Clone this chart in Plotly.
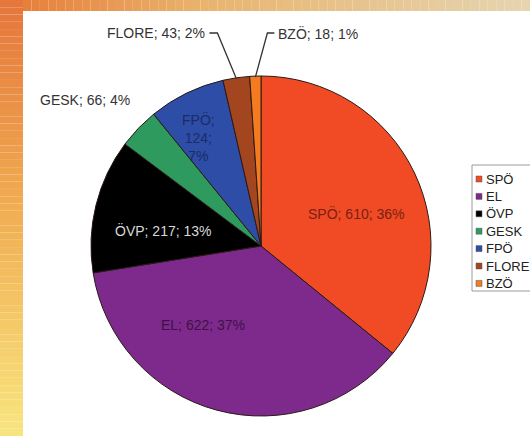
import math
import plotly.graph_objects as go

# ---- data ----
parties = ["SPÖ", "EL", "ÖVP", "GESK", "FPÖ", "FLORE", "BZÖ"]
seats = [610, 622, 217, 66, 124, 43, 18]
pct_labels = ["36%", "37%", "13%", "4%", "7%", "2%", "1%"]
colors = ["#F04B24", "#7E2A8C", "#000000", "#2F9A5E", "#2E4DA6", "#A3461F", "#F47B20"]
label_colors = ["#7A2014", "#3E1148", "#D8D8D8", "#333333", "#1B2C66", "#333333", "#333333"]

W, H = 530, 436
CX, CY, R = 261, 246, 170  # pie geometry in pixels

def px(x):
    return x / W

def py(y):
    return 1 - y / H

texts = []
for p, v, pc in zip(parties, seats, pct_labels):
    if p == "FPÖ":
        texts.append(f"{p};<br>{v};<br>{pc}")
    else:
        texts.append(f"{p}; {v}; {pc}")

fig = go.Figure()
fig.add_trace(go.Pie(
    labels=parties, values=seats, text=texts, textinfo="none",
    sort=False, direction="clockwise", rotation=0,
    marker=dict(colors=colors, line=dict(color="#2a1a14", width=1)),
    domain=dict(x=[px(CX - R), px(CX + R)], y=[py(CY + R), py(CY - R)]),
    showlegend=False, hoverinfo="label+value+percent",
))

shapes = []
annotations = []

# ---- background gradient strips ----
def lerp(c1, c2, t):
    return "rgb({},{},{})".format(*[round(a + (b - a) * t) for a, b in zip(c1, c2)])

def grad(stops, t):
    for (t0, c0), (t1, c1) in zip(stops, stops[1:]):
        if t <= t1:
            return lerp(c0, c1, (t - t0) / (t1 - t0))
    return lerp(stops[-1][1], stops[-1][1], 0)

N = 60
left_stops = [(0.0, (229, 118, 60)), (0.45, (240, 170, 80)), (1.0, (248, 228, 126))]
for i in range(N):
    t = i / (N - 1)
    shapes.append(dict(type="rect", xref="paper", yref="paper", layer="below",
                       x0=0, x1=px(23), y0=py(H * (i + 1) / N), y1=py(H * i / N),
                       fillcolor=grad(left_stops, t), line=dict(width=0)))
top_stops = [(0.0, (232, 128, 60)), (0.35, (232, 180, 110)), (1.0, (230, 212, 176))]
for i in range(N):
    t = i / (N - 1)
    x0 = 23 + (W - 23) * i / N
    x1 = 23 + (W - 23) * (i + 1) / N
    shapes.append(dict(type="rect", xref="paper", yref="paper", layer="below",
                       x0=px(x0), x1=px(x1), y0=py(11), y1=1,
                       fillcolor=grad(top_stops, t), line=dict(width=0)))

# ---- slice geometry from data ----
total = sum(seats)
cum = 0
mid_angle = {}
for p, v in zip(parties, seats):
    mid_angle[p] = (cum + v / 2) / total * 2 * math.pi
    cum += v

def edge_point(p, rr=R):
    a = mid_angle[p]
    return CX + rr * math.sin(a), CY - rr * math.cos(a)

font_family = "Liberation Sans, Arial, sans-serif"

# inside labels: (radius in px, angle in degrees clockwise from top) -- "best fit" placement
inside_pos = {"SPÖ": (101, 71), "EL": (98, 216), "ÖVP": (99, 279), "FPÖ": (125, 330)}
for p, t, lc in zip(parties, texts, label_colors):
    if p in inside_pos:
        rr, ang = inside_pos[p]
        a = math.radians(ang)
        x, y = CX + rr * math.sin(a), CY - rr * math.cos(a)
        annotations.append(dict(x=px(x), y=py(y), xref="paper", yref="paper", text=t,
                                showarrow=False, xanchor="center", yanchor="middle",
                                font=dict(family=font_family, size=14, color=lc)))

# outside labels with leader lines
label_font = dict(family=font_family, size=14, color="#333333")
outside = {"FLORE": (-19, 33, "right"), "BZÖ": (12, 33, "left")}
for p, t in zip(parties, texts):
    if p in outside:
        dx, ey, side = outside[p]
        sx, sy = edge_point(p, R - 1)
        ex = sx + dx
        hx = ex - 8 if side == "right" else ex + 7
        shapes.append(dict(type="path", xref="paper", yref="paper",
                           path=f"M{px(sx)},{py(sy)} L{px(ex)},{py(ey)} L{px(hx)},{py(ey)}",
                           line=dict(color="#333333", width=1.3)))
        annotations.append(dict(x=px(hx + (-2 if side == "right" else 2)), y=py(ey), xref="paper", yref="paper",
                                text=t, showarrow=False, xanchor=side, yanchor="middle", font=label_font))
    elif p == "GESK":
        sx, sy = edge_point(p)
        annotations.append(dict(x=px(sx - 6), y=py(sy - 28), xref="paper", yref="paper",
                                text=t, showarrow=False, xanchor="right", yanchor="middle", font=label_font))

# ---- legend (manual, Excel style) ----
LX, LY, STEP = 472, 179, 17.4
shapes.append(dict(type="rect", xref="paper", yref="paper",
                   x0=px(LX), x1=px(W + 10), y0=py(291), y1=py(165),
                   line=dict(color="#9a9a9a", width=1), fillcolor="white"))
for i, (p, c) in enumerate(zip(parties, colors)):
    yc = LY + i * STEP
    shapes.append(dict(type="rect", xref="paper", yref="paper",
                       x0=px(LX + 4), x1=px(LX + 10), y0=py(yc + 3), y1=py(yc - 3),
                       fillcolor=c, line=dict(color="#555555", width=0.5)))
    annotations.append(dict(x=px(LX + 12), y=py(yc), xref="paper", yref="paper",
                            text=p, showarrow=False, xanchor="left", yanchor="middle",
                            font=dict(family=font_family, size=13, color="#222222")))

fig.update_layout(
    width=W, height=H, margin=dict(l=0, r=0, t=0, b=0),
    paper_bgcolor="white", plot_bgcolor="white",
    shapes=shapes, annotations=annotations,
    showlegend=False,
)

fig.write_html("out.html", config={"displayModeBar": False},
               post_script="document.body.style.margin='0';")
